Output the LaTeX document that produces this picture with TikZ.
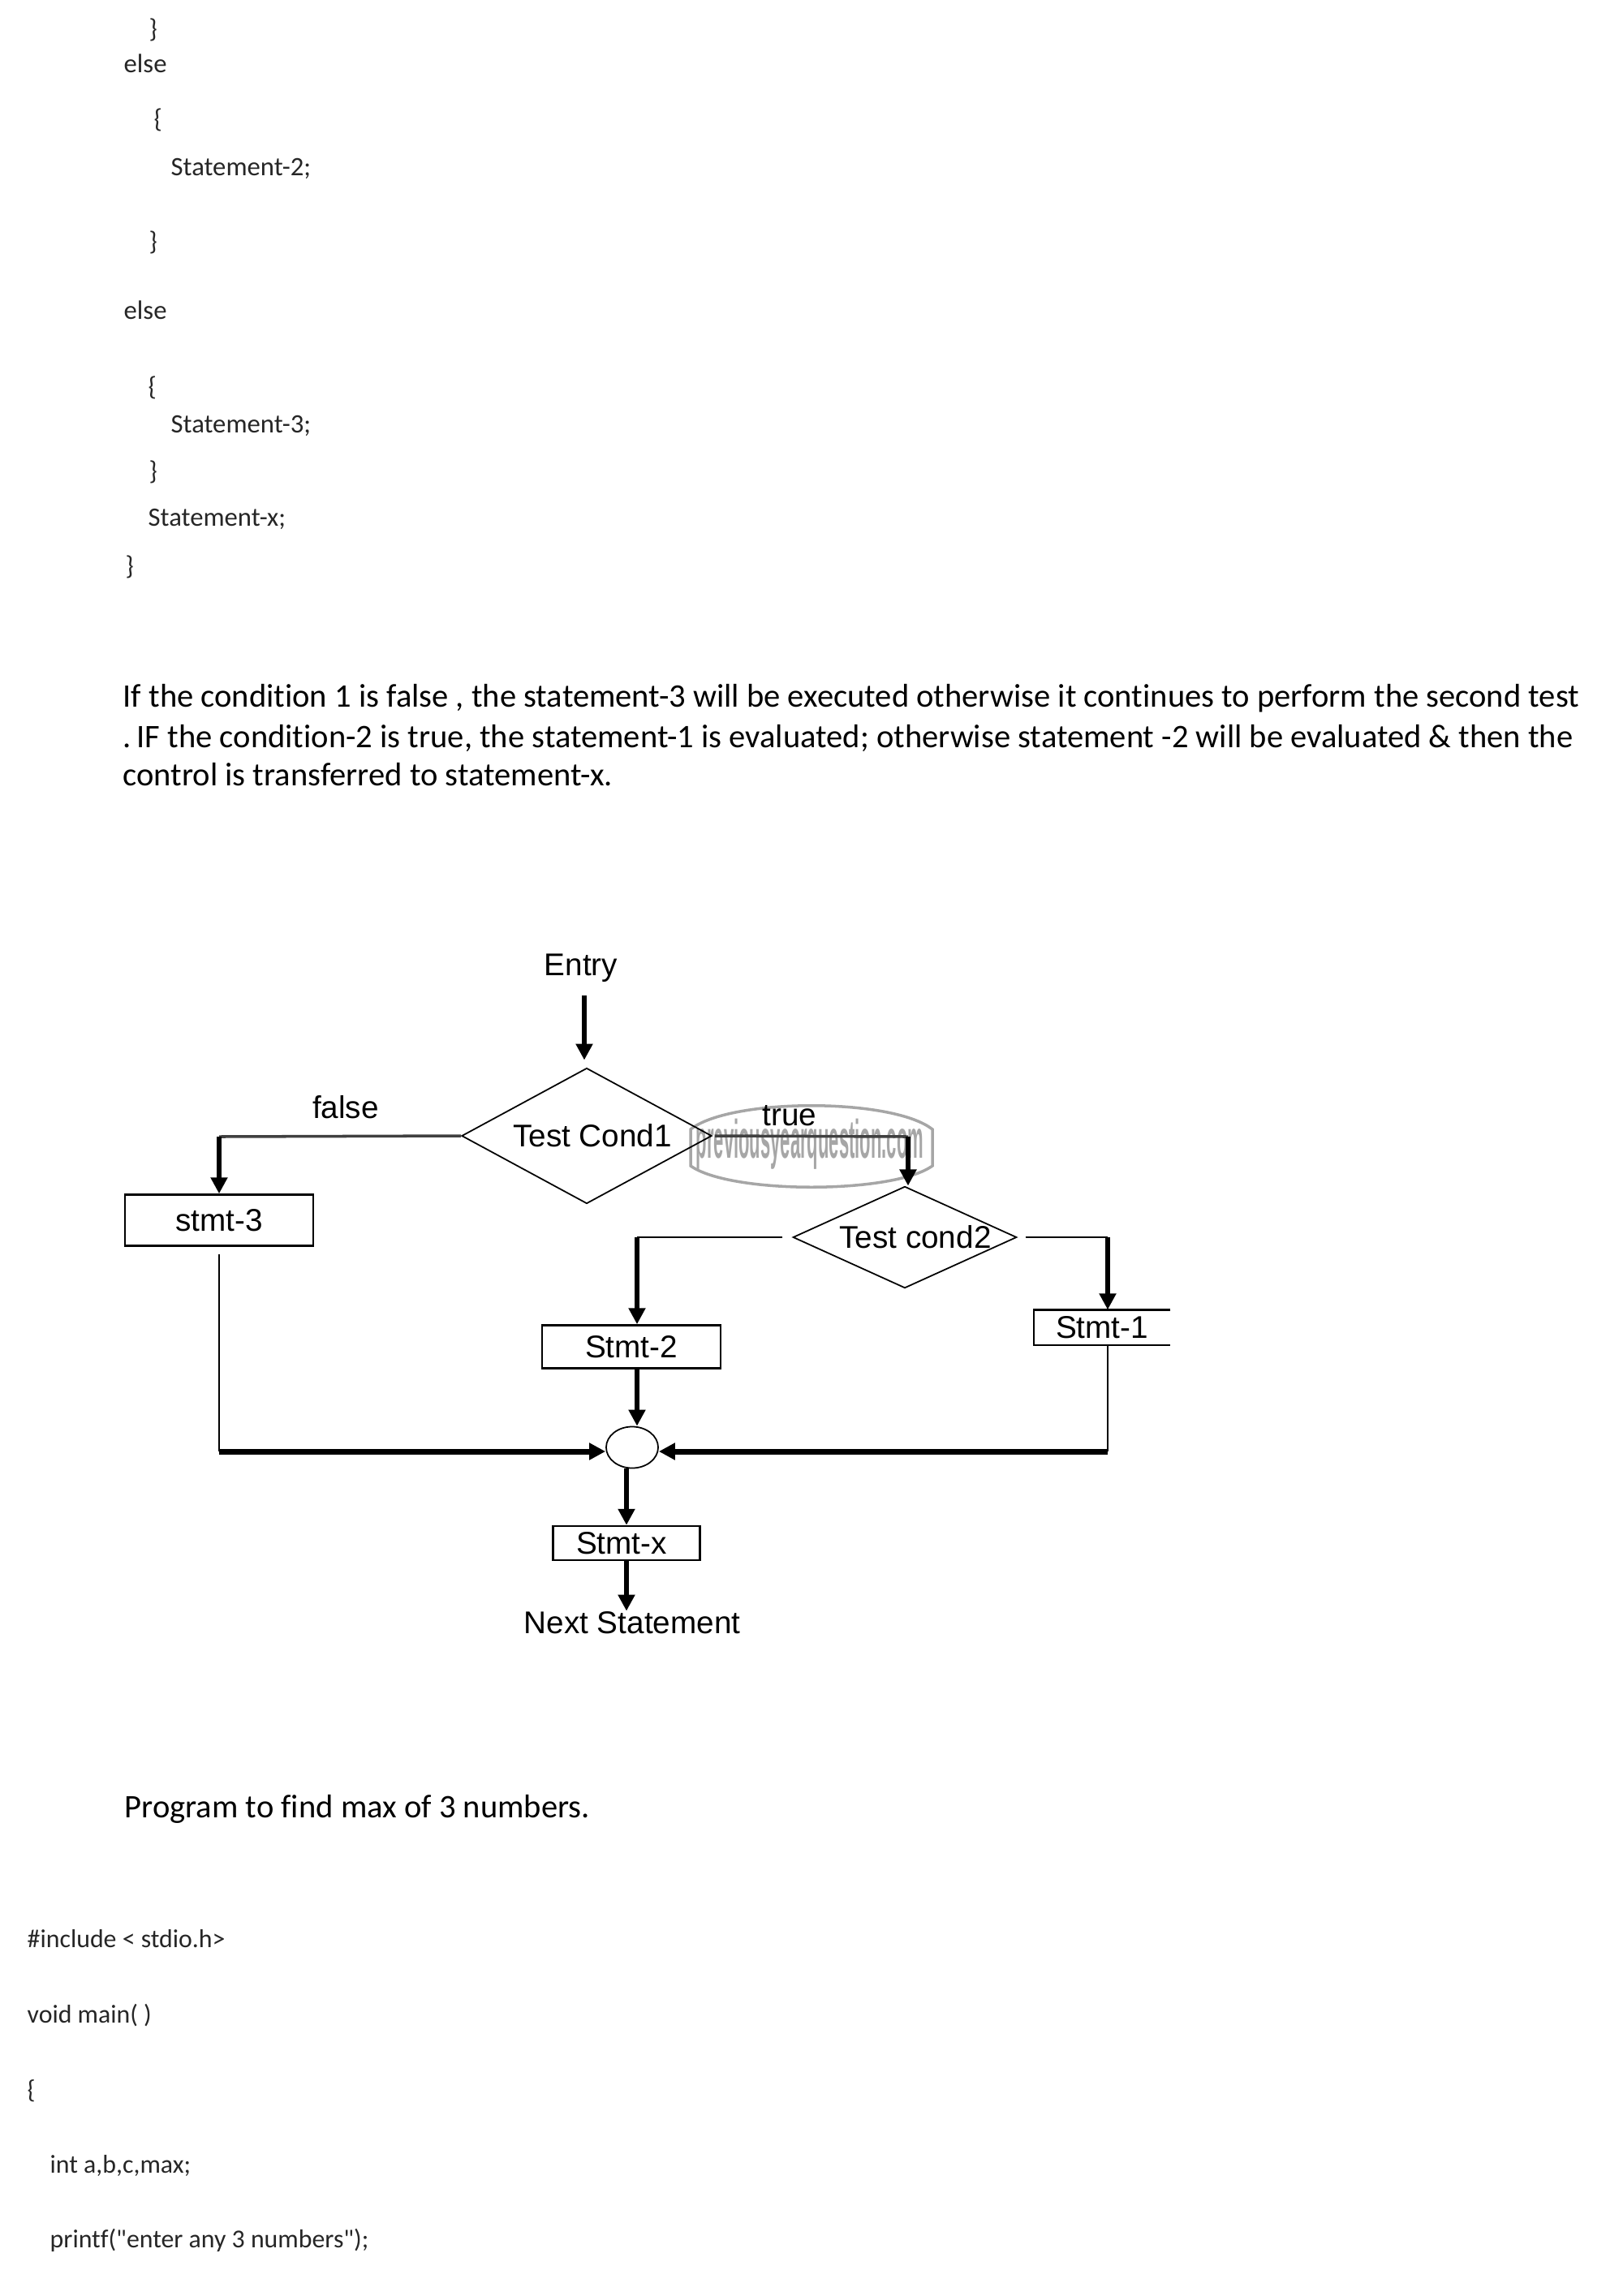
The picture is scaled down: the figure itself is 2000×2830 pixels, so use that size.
\documentclass[tikz,border=0pt]{standalone}
\usepackage{fontspec}
\newfontfamily\bodyfont[Ligatures=NoCommon]{Carlito}
\newfontfamily\flowfont{Liberation Sans}
\usetikzlibrary{positioning}
\usetikzlibrary{shapes.geometric}
\usetikzlibrary{arrows.meta}

\begin{document}
\begin{tikzpicture}[x=0.01cm,y=-0.01cm]
% Style definitions
\tikzset{
    codeline/.style={anchor=base west, inner sep=0pt, font=\bodyfont\fontsize{9.3}{11}\selectfont, text=black!85},
    codelow/.style={codeline, font=\bodyfont\fontsize{9.05}{11}\selectfont},
    paraline/.style={anchor=base west, inner sep=0pt, font=\bodyfont\fontsize{11.53}{14}\selectfont},
    flowtext/.style={inner sep=0pt, font=\flowfont\fontsize{11}{13}\selectfont},
    stmtbox/.style={flowtext, draw, line width=0.7pt},
    test/.style={flowtext, diamond, draw, line width=0.5pt},
    thickarrow/.style={-{Triangle[length=0.2cm,width=0.2cm]}, line width=1.5pt},
    thinline/.style={line width=0.6pt},
    midline/.style={line width=1pt},
    heavyline/.style={line width=2pt}
}
\useasboundingbox (0,0) rectangle (2000,2830);

% Code above the paragraph
\node[codeline] (close1) at (183,47) {\}};
\node[codeline] (else1) at (152,90) {else};
\node[codeline] (open1) at (189,157) {\{};
\node[codeline] (stmtcode2) at (210,216) {Statement-2;};
\node[codeline] (close2) at (183,308) {\}};
\node[codeline] (else2) at (152,393) {else};
\node[codeline] (open2) at (182,487) {\{};
\node[codeline] (stmtcode3) at (210,533) {Statement-3;};
\node[codeline] (close3) at (183,591) {\}};
\node[codeline] (stmtcodex) at (182,648) {Statement-x;};
\node[codeline] (close4) at (154,708) {\}};

% Paragraph
\node[paraline] (para1) at (151,871) {If the condition 1 is false , the statement-3 will be executed otherwise it continues to perform the second test};
\node[paraline] (para2) at (151,921) {.\,IF the condition-2 is true, the statement-1 is evaluated; otherwise statement -2 will be evaluated \& then the};
\node[paraline] (para3) at (151,968) {control is transferred to statement-x.};

% Watermark
\draw[gray!70, line width=1pt] (851,1392) .. controls (900,1353) and (1100,1353) .. (1149,1392)
    -- (1149,1437) .. controls (1100,1472) and (900,1472) .. (851,1437) -- cycle;
\node[inner sep=0pt, xscale=0.33, text=gray!70, font=\flowfont\bfseries\fontsize{19}{22}\selectfont] (mark) at (998,1410) {previousyearquestion.com};

% Flow chart nodes
\node[flowtext] (entry) at (716,1193) {Entry};
\node[test, aspect=1.84, minimum width=3.08cm, minimum height=1.67cm] (cond1) at (723,1400) {\hspace*{0.14cm}Test Cond1};
\node[flowtext] (falselabel) at (426,1365) {false};
\node[flowtext] (truelabel) at (973,1375) {true};
\node[stmtbox, minimum width=2.32cm, minimum height=0.63cm] (stmt3) at (270,1504) {stmt-3};
\node[test, aspect=2.2, minimum width=2.73cm, minimum height=1.24cm] (cond2) at (1115,1525) {\hspace*{0.26cm}Test cond2};
\node[stmtbox, minimum width=2.2cm, minimum height=0.53cm] (stmt2) at (778,1660) {Stmt-2};
\node[flowtext, minimum width=1.67cm, minimum height=0.42cm] (stmt1) at (1358,1636) {Stmt-1};
\node[ellipse, draw, line width=0.5pt, minimum width=0.64cm, minimum height=0.51cm, inner sep=0pt] (merge) at (779,1784) {};
\node[stmtbox, minimum width=1.81cm, minimum height=0.42cm] (stmtx) at (772,1902) {Stmt-x\hspace*{0.12cm}};
\node[flowtext] (next) at (779,2000) {Next Statement};

% Stmt-1 box has no right side
\draw[line width=0.7pt] (stmt1.north east) -- (stmt1.north west) -- (stmt1.south west) -- (stmt1.south east);

% Elbows
\coordinate (falsecorner) at (270,1401);
\coordinate (truecorner) at (1119,1401);
\coordinate (leftcorner) at (785,1525);
\coordinate (rightcorner) at (1365,1525);
\coordinate (mergeleft) at (270,1789);
\coordinate (mergeright) at (1365,1789);
\coordinate (entrydown) at (720,1227);

% Connecting arrows
\draw[thickarrow, shorten >=0.09cm] (entrydown) -- (entrydown |- cond1.north);
\draw[midline, black!75] (cond1.west) -- (falsecorner);
\draw[thickarrow] (falsecorner) -- (stmt3.north);
\draw[midline, black!75, shorten <=0.03cm] (cond1.east) -- (truecorner);
\draw[thickarrow] (truecorner) -- (truecorner |- cond2.north);
\draw[thinline, shorten <=0.12cm] (cond2.west) -- (leftcorner);
\draw[thickarrow] (leftcorner) -- (leftcorner |- stmt2.north);
\draw[thinline, shorten <=0.1cm] (cond2.east) -- (rightcorner);
\draw[thickarrow] (rightcorner) -- (rightcorner |- stmt1.north);
\draw[thickarrow] (leftcorner |- stmt2.south) -- (leftcorner |- merge.north);
\draw[thinline, shorten <=0.09cm] (stmt3.south) -- (mergeleft);
\draw[thinline] (rightcorner |- stmt1.south) -- (mergeright);
\draw[thickarrow, line width=2pt] (mergeleft) -- (merge.west |- mergeleft);
\draw[thickarrow, line width=2pt] (mergeright) -- (merge.east |- mergeright);
\draw[thickarrow] (stmtx |- merge.south) -- (stmtx.north);
\draw[thickarrow] (stmtx.south) -- (stmtx.south |- next.north);

% Code below the chart
\node[paraline] (progtitle) at (153,2240) {Program to find max of 3 numbers.};
\node[codelow] (include) at (33,2400) {\#include < stdio.h>};
\node[codelow] (voidmain) at (33,2493) {void main( )};
\node[codelow] (open3) at (33,2586) {\{};
\node[codelow] (decl) at (61,2678) {int a,b,c,max;};
\node[codelow] (print) at (61,2770) {printf("enter any 3 numbers");};
\end{tikzpicture}
\end{document}
